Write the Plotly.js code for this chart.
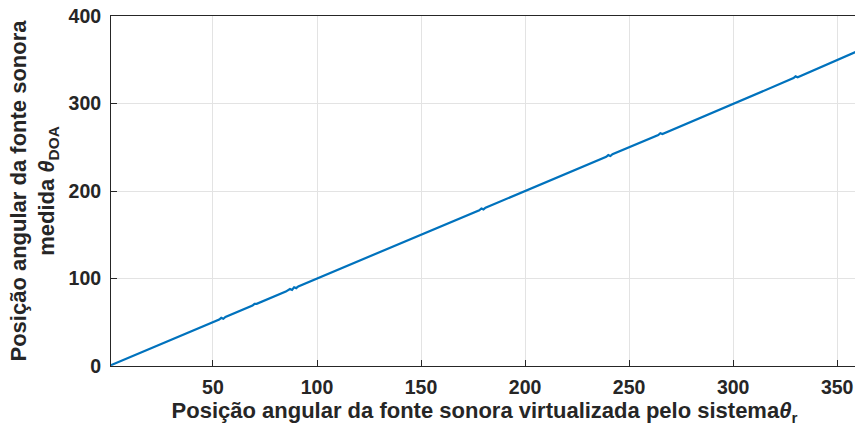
<!DOCTYPE html>
<html>
<head>
<meta charset="utf-8">
<script src="https://cdn.plot.ly/plotly-3.0.1.min.js"></script>
<style>
html,body{margin:0;padding:0;overflow:hidden;background:#fff;}
#chart{width:858px;height:429px;}
</style>
</head>
<body>
<div id="chart"></div>
<script>
const thetaR   = [1, 53, 54, 55, 56, 69, 70, 71, 85, 86, 87, 88, 89, 90, 91, 178, 179, 180, 181, 239, 240, 241, 242, 264, 265, 266, 329, 330, 331, 360];
const thetaDOA = [1, 53, 55, 54, 56, 69, 71, 71, 85, 87, 88, 87, 90, 89, 91, 178, 180, 179, 181, 239, 241, 240, 242, 264, 266, 265, 329, 331, 330, 360];
const xTicks = [50, 100, 150, 200, 250, 300, 350];
const yTicks = [0, 100, 200, 300, 400];

const fontFam = '"Liberation Sans", Arial, Helvetica, sans-serif';
const axisCol = '#262626';

const trace = {
  x: thetaR, y: thetaDOA, type: 'scatter', mode: 'lines',
  line: {color: '#0072BD', width: 2.2}, showlegend: false, hoverinfo: 'skip'
};

const layout = {
  width: 858, height: 429,
  margin: {l: 111, r: 0, t: 16, b: 63, pad: 0},
  paper_bgcolor: '#ffffff', plot_bgcolor: '#ffffff',
  font: {family: fontFam, color: axisCol, size: 19, weight: 'bold'},
  xaxis: {
    range: [1, 360], tickvals: xTicks, ticktext: xTicks.map(String),
    showline: true, linecolor: axisCol, linewidth: 1, mirror: true,
    ticks: 'inside', ticklen: 6, tickcolor: axisCol,
    showgrid: true, gridcolor: '#e3e3e3', gridwidth: 1, zeroline: false,
    tickfont: {family: fontFam, size: 19.5, color: axisCol, weight: 'bold'},
    ticklabelstandoff: 4,
    title: {text: 'Posição angular da fonte sonora virtualizada pelo sistema<i>θ</i><sub>r</sub>',
            font: {family: fontFam, size: 22, color: axisCol, weight: 'bold'}, standoff: 4}
  },
  yaxis: {
    range: [0, 400], tickvals: yTicks, ticktext: yTicks.map(String),
    showline: true, linecolor: axisCol, linewidth: 1, mirror: false,
    ticks: 'inside', ticklen: 6, tickcolor: axisCol,
    showgrid: true, gridcolor: '#e3e3e3', gridwidth: 1, zeroline: false,
    tickfont: {family: fontFam, size: 19.5, color: axisCol, weight: 'bold'},
    ticklabelstandoff: 5,
    title: {text: 'Posição angular da fonte sonora<br>medida <i>θ</i><sub>DOA</sub>',
            font: {family: fontFam, size: 22, color: axisCol, weight: 'bold'}, standoff: 7}
  }
};

Plotly.newPlot('chart', [trace], layout, {displayModeBar: false, staticPlot: true});
</script>
</body>
</html>
